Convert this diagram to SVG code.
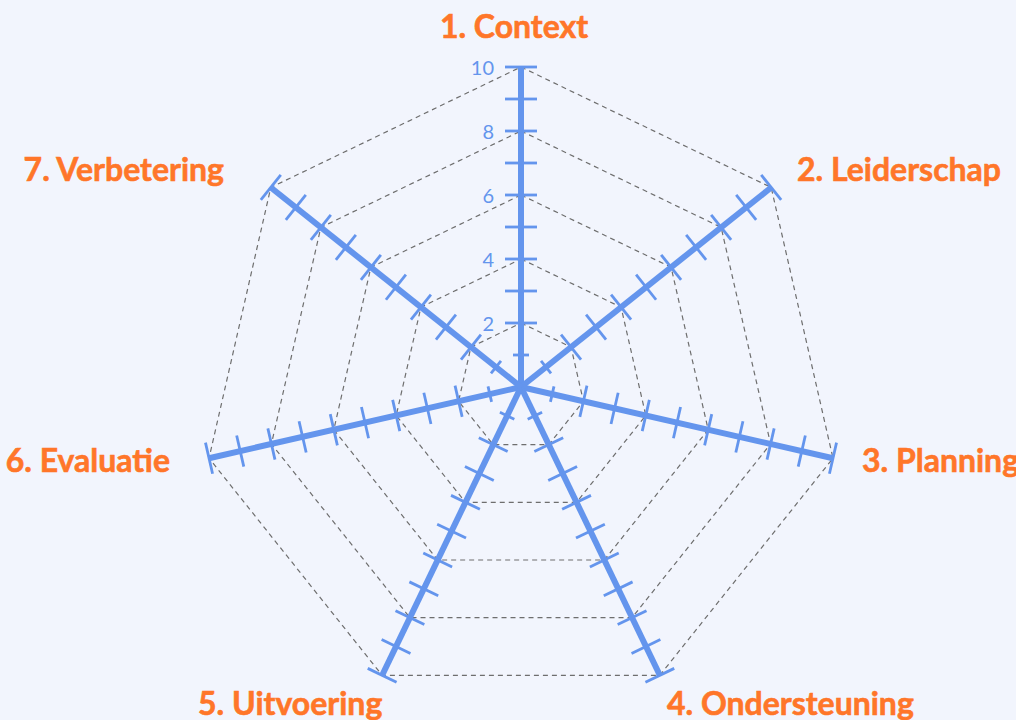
<svg xmlns="http://www.w3.org/2000/svg" xmlns:xlink="http://www.w3.org/1999/xlink" width="1016" height="720" viewBox="0 0 1016 720">
  <style>
    .grid { fill: none; stroke: #6e6e6e; stroke-width: 1.2; stroke-dasharray: 5 4; }
    .axis { stroke: #6495ed; stroke-width: 6; stroke-linecap: butt; }
    .tick { stroke: #6495ed; stroke-width: 2.8; }
    .lbl { font-family: Lato, "Liberation Sans", sans-serif; font-weight: 700; font-size: 32px; fill: #ff7629; stroke: #ff7629; stroke-width: 0.6; }
    .num { font-family: Lato, "Liberation Sans", sans-serif; font-size: 20px; fill: #6495ed; text-anchor: end; }
  </style>
  <defs>
    <g id="axisShape">
      <line class="axis" x1="0" y1="0" x2="0" y2="-320"/>
      <line class="tick" x1="-8" y1="-32" x2="8" y2="-32"/>
      <line class="tick" x1="-16" y1="-64" x2="16" y2="-64"/>
      <line class="tick" x1="-16" y1="-96" x2="16" y2="-96"/>
      <line class="tick" x1="-16" y1="-128" x2="16" y2="-128"/>
      <line class="tick" x1="-16" y1="-160" x2="16" y2="-160"/>
      <line class="tick" x1="-16" y1="-192" x2="16" y2="-192"/>
      <line class="tick" x1="-16" y1="-224" x2="16" y2="-224"/>
      <line class="tick" x1="-16" y1="-256" x2="16" y2="-256"/>
      <line class="tick" x1="-16" y1="-288" x2="16" y2="-288"/>
      <line class="tick" x1="-16" y1="-320" x2="16" y2="-320"/>
    </g>
  </defs>
  <rect width="1016" height="720" fill="#f2f5fd"/>

  <g id="grid">
    <polygon class="grid" points="521,323 571.04,347.10 583.40,401.24 548.77,444.66 493.23,444.66 458.60,401.24 470.96,347.10"/>
    <polygon class="grid" points="521,259 621.07,307.19 645.79,415.48 576.54,502.32 465.46,502.32 396.21,415.48 420.93,307.19"/>
    <polygon class="grid" points="521,195 671.11,267.29 708.19,429.72 604.31,559.99 437.69,559.99 333.81,429.72 370.89,267.29"/>
    <polygon class="grid" points="521,131 721.15,227.39 770.58,443.97 632.07,617.65 409.93,617.65 271.42,443.97 320.85,227.39"/>
    <polygon class="grid" points="521,67 771.19,187.48 832.98,458.21 659.84,675.31 382.16,675.31 209.02,458.21 270.81,187.48"/>
  </g>

  <g id="connectors">
    <g id="axis-1"><use xlink:href="#axisShape" href="#axisShape" transform="translate(521,387) rotate(0)"/></g>
    <g id="axis-2"><use xlink:href="#axisShape" href="#axisShape" transform="translate(521,387) rotate(51.4286)"/></g>
    <g id="axis-3"><use xlink:href="#axisShape" href="#axisShape" transform="translate(521,387) rotate(102.857)"/></g>
    <g id="axis-4"><use xlink:href="#axisShape" href="#axisShape" transform="translate(521,387) rotate(154.286)"/></g>
    <g id="axis-5"><use xlink:href="#axisShape" href="#axisShape" transform="translate(521,387) rotate(205.714)"/></g>
    <g id="axis-6"><use xlink:href="#axisShape" href="#axisShape" transform="translate(521,387) rotate(257.143)"/></g>
    <g id="axis-7"><use xlink:href="#axisShape" href="#axisShape" transform="translate(521,387) rotate(308.571)"/></g>
  </g>

  <g id="scale">
    <text class="num" x="494" y="75">10</text>
    <text class="num" x="494" y="139">8</text>
    <text class="num" x="494" y="203">6</text>
    <text class="num" x="494" y="267">4</text>
    <text class="num" x="494" y="331">2</text>
  </g>

  <g id="node-1"><text class="lbl" x="514" y="38" text-anchor="middle">1. Context</text></g>
  <g id="node-2"><text class="lbl" x="797" y="181">2. Leiderschap</text></g>
  <g id="node-3"><text class="lbl" x="862" y="472">3. Planning</text></g>
  <g id="node-4"><text class="lbl" x="667" y="715">4. Ondersteuning</text></g>
  <g id="node-5"><text class="lbl" x="198" y="715">5. Uitvoering</text></g>
  <g id="node-6"><text class="lbl" x="170" y="472" text-anchor="end">6. Evaluatie</text></g>
  <g id="node-7"><text class="lbl" x="224" y="181" text-anchor="end">7. Verbetering</text></g>
</svg>
